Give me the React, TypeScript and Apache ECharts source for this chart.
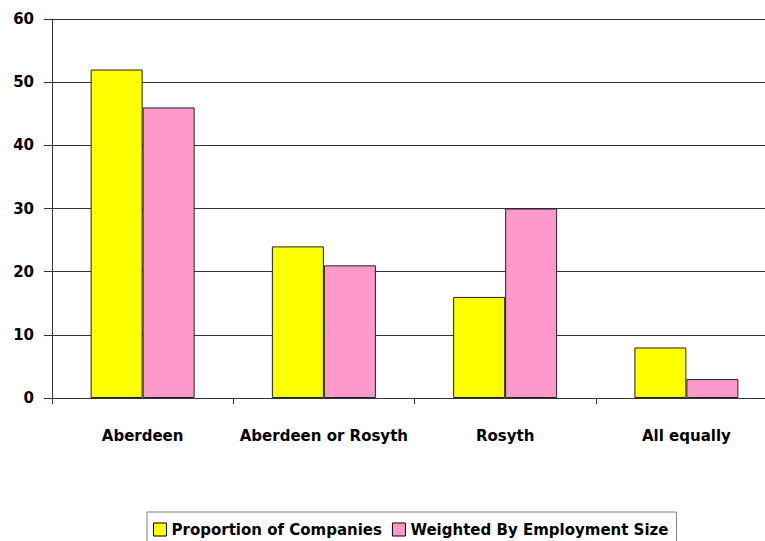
import React, { useEffect, useRef } from "react";
import * as echarts from "echarts";

const categories = ["Aberdeen", "Aberdeen or Rosyth", "Rosyth", "All equally"];
const proportionOfCompanies = [52, 24, 16, 8];
const weightedByEmployment = [46, 21, 30, 3];
const seriesNames = ["Proportion of Companies", "Weighted By Employment Size"];

export default function App() {
  const ref = useRef<HTMLDivElement>(null);
  useEffect(() => {
    if (!ref.current) return;
    const chart = echarts.init(ref.current, null, { renderer: "svg" });
    const font = "'DejaVu Sans', Verdana, sans-serif";
    chart.setOption({
      animation: false,
      backgroundColor: "#ffffff",
      grid: { left: 52, top: 19, height: 379, width: 725, containLabel: false },
      legend: {
        data: seriesNames,
        left: 147,
        top: 512,
        orient: "horizontal",
        itemWidth: 13,
        itemHeight: 13,
        itemGap: 10,
        padding: [10, 8, 12, 6],
        borderColor: "#808080",
        borderWidth: 1,
        icon: "rect",
        itemStyle: { borderColor: "#000", borderWidth: 1 },
        textStyle: { fontFamily: font, fontWeight: "bold", fontSize: 15, color: "#000" },
      },
      xAxis: {
        type: "category",
        data: categories,
        axisLine: { lineStyle: { color: "#333", width: 1 } },
        axisTick: { show: true, length: 6, alignWithLabel: false, lineStyle: { color: "#333" } },
        axisLabel: { fontFamily: font, fontWeight: "bold", fontSize: 15, color: "#000", margin: 30, interval: 0 },
      },
      yAxis: {
        type: "value",
        min: 0,
        max: 60,
        interval: 10,
        axisLine: { show: true, lineStyle: { color: "#333", width: 1 } },
        axisTick: { show: true, length: 8, inside: false, lineStyle: { color: "#333" } },
        axisLabel: { fontFamily: font, fontWeight: "bold", fontSize: 15, color: "#000", margin: 18 },
        splitLine: { show: true, lineStyle: { color: "#333", width: 1 } },
      },
      series: [
        {
          name: seriesNames[0],
          type: "bar",
          data: proportionOfCompanies,
          barWidth: 52,
          barGap: "0%",
          itemStyle: { color: "#FFFF00", borderColor: "#222", borderWidth: 1 },
        },
        {
          name: seriesNames[1],
          type: "bar",
          data: weightedByEmployment,
          barWidth: 52,
          barGap: "0%",
          itemStyle: { color: "#FF99CC", borderColor: "#222", borderWidth: 1 },
        },
      ],
    });
    return () => chart.dispose();
  }, []);
  return (
    <div style={{ width: 765, height: 541, position: "absolute", left: 0, top: 0, overflow: "hidden" }}>
      <div ref={ref} style={{ width: 790, height: 541, position: "absolute", left: 0, top: 0 }} />
    </div>
  );
}
